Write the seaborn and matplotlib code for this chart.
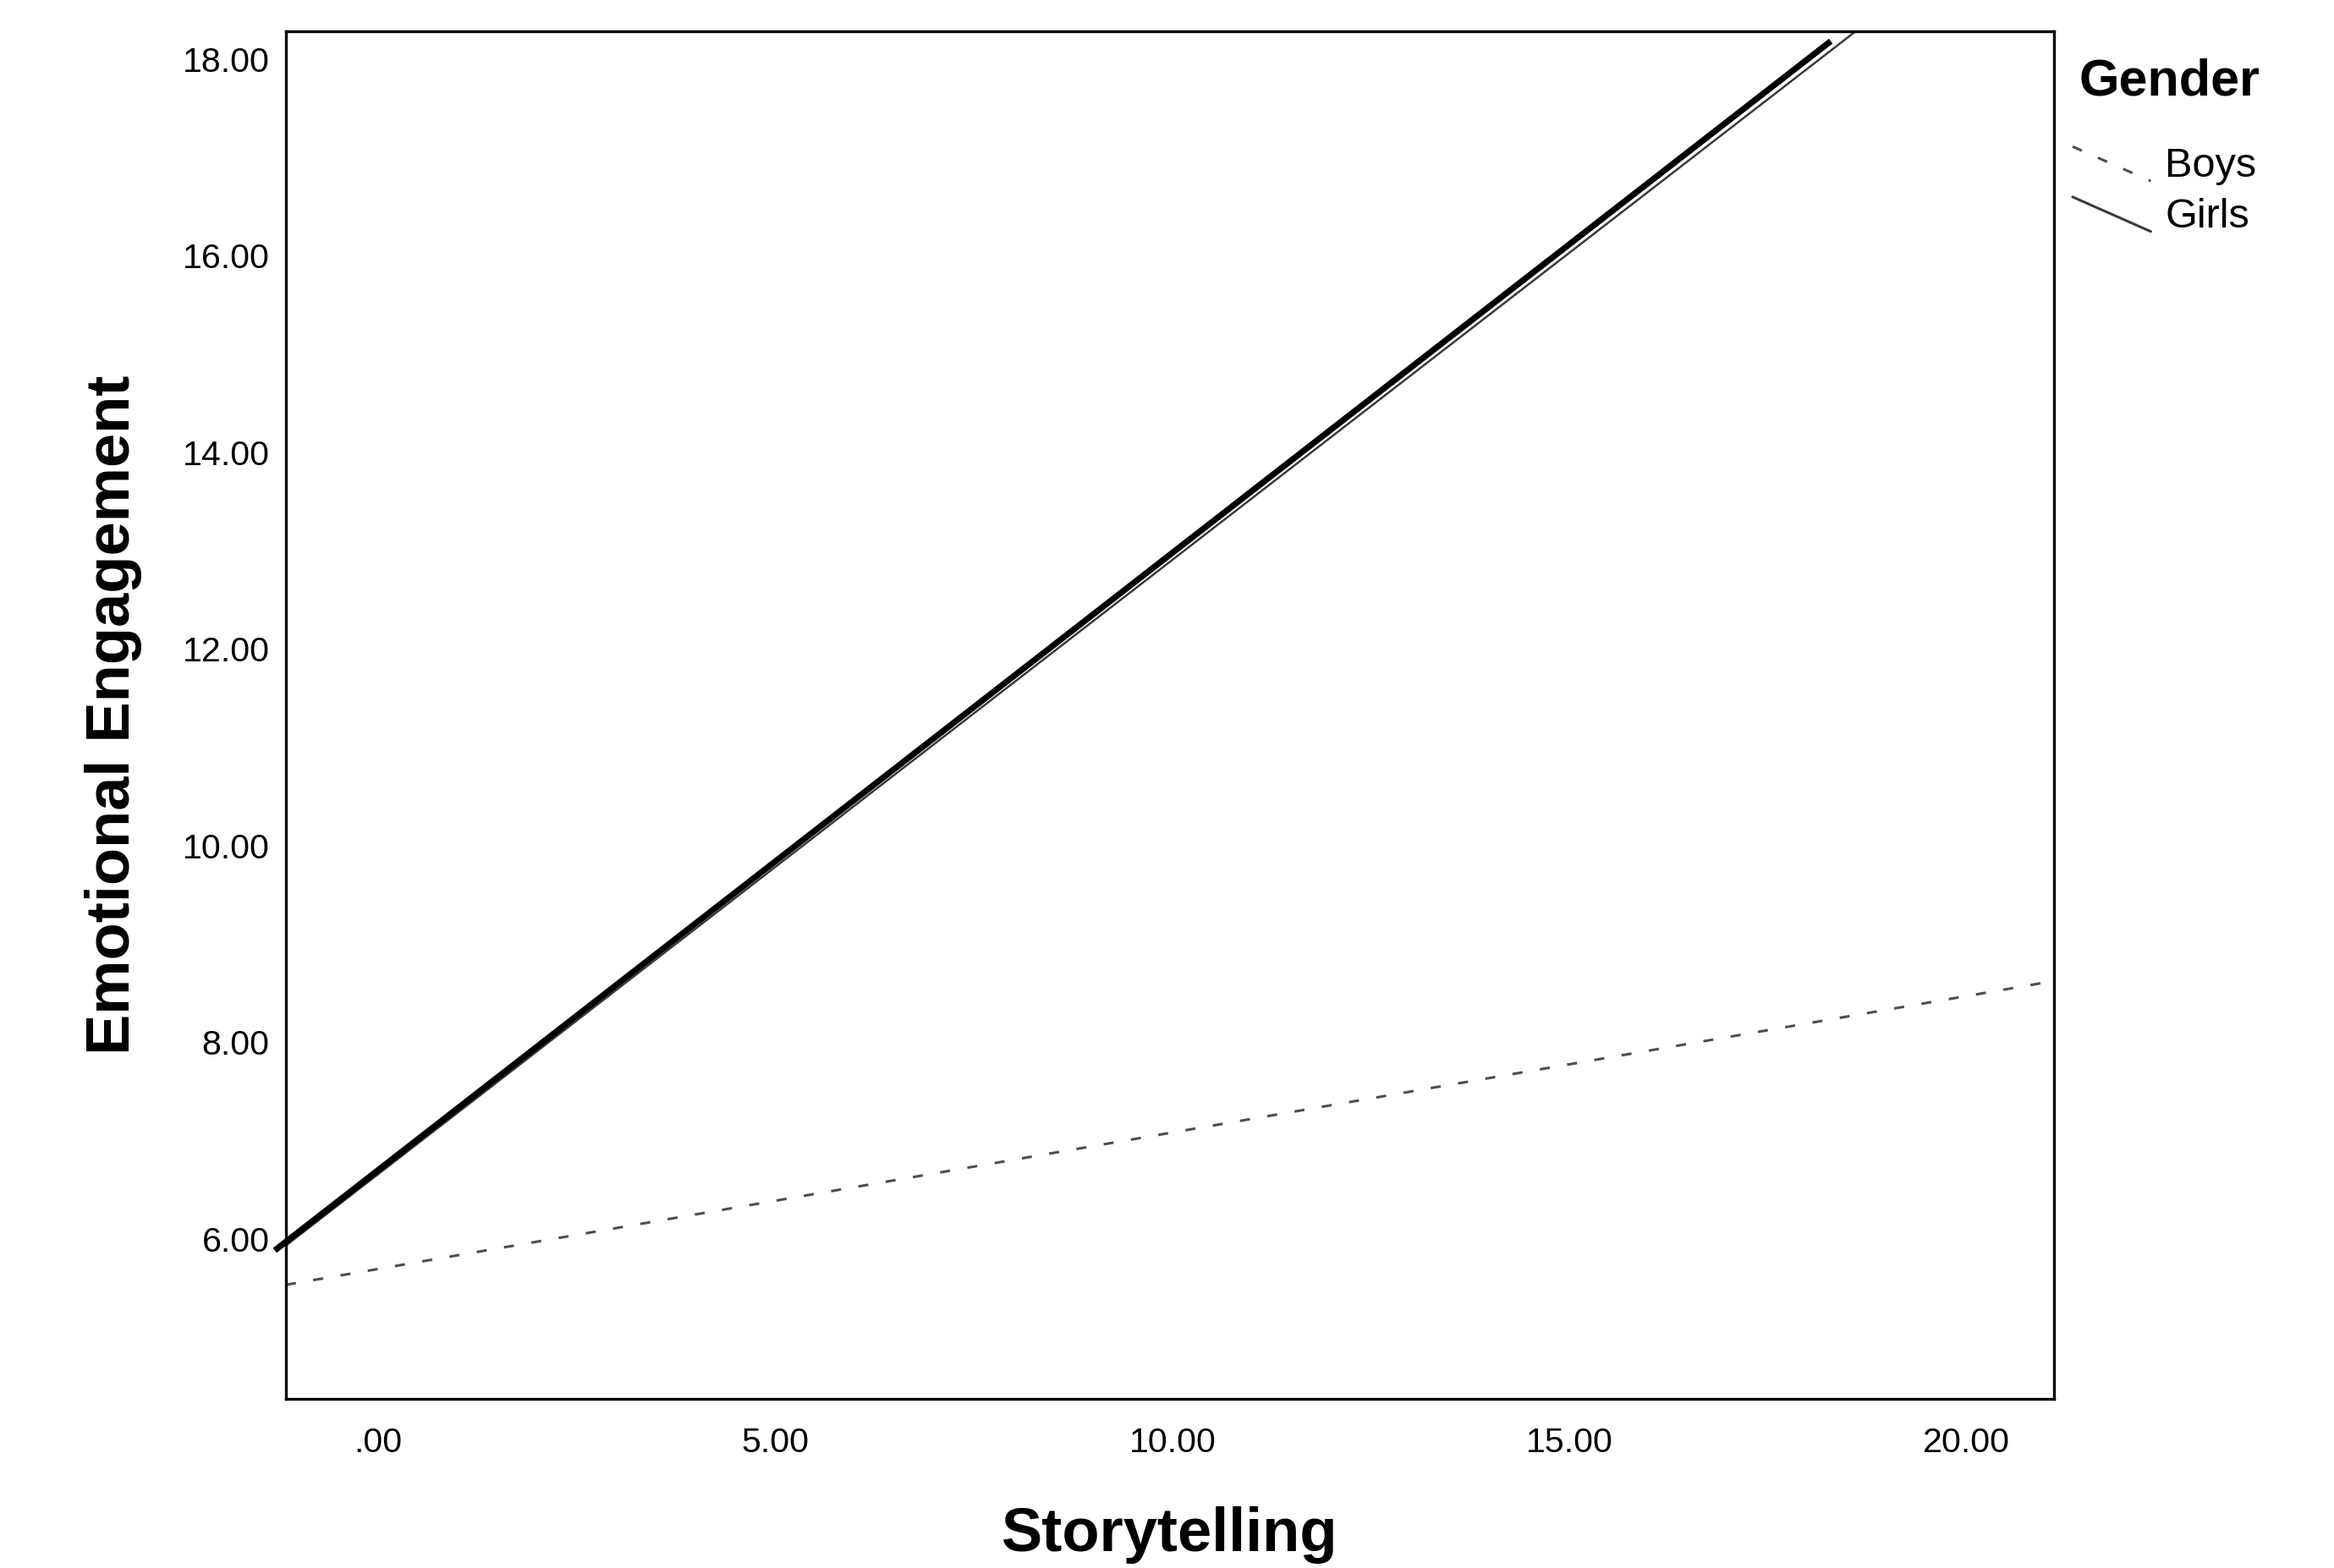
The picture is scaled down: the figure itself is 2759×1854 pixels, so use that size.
import matplotlib
matplotlib.use("Agg")
import matplotlib.pyplot as plt
from matplotlib.lines import Line2D
from matplotlib.legend_handler import HandlerBase
import seaborn as sns
import pandas as pd

# ---- data ----
x_ticks = [0, 5, 10, 15, 20]
x_tick_labels = [".00", "5.00", "10.00", "15.00", "20.00"]
y_ticks = [6, 8, 10, 12, 14, 16, 18]
y_tick_labels = ["6.00", "8.00", "10.00", "12.00", "14.00", "16.00", "18.00"]

boys_story = [-1.16, 21.1]
boys_engage = [5.53, 8.62]
girls_story = [-1.16, 21.1]
girls_engage = [5.93, 19.84]
overall_story = [-1.30, 18.29]
overall_engage = [5.88, 18.18]

sns.set_theme(style="white")
plt.rcParams["font.family"] = ["Liberation Sans", "DejaVu Sans"]
plt.rcParams["text.color"] = "black"
plt.rcParams["axes.labelcolor"] = "black"

W, H = 2759, 1854
fig = plt.figure(figsize=(W / 200, H / 200), dpi=200)
left, right, top, bottom = 338 / W, 2428 / W, 1 - 37 / H, 1 - 1654 / H
ax = fig.add_axes([left, bottom, right - left, top - bottom])

df_boys = pd.DataFrame({"Storytelling": boys_story, "Engagement": boys_engage})
df_girls = pd.DataFrame({"Storytelling": girls_story, "Engagement": girls_engage})
df_all = pd.DataFrame({"Storytelling": overall_story, "Engagement": overall_engage})

boys_style = dict(color="#4e4e4e", linewidth=1.1, linestyle=(0, (3.9, 6.8)))
girls_style = dict(color="#3a3a3a", linewidth=0.9)

sns.lineplot(data=df_boys, x="Storytelling", y="Engagement", ax=ax, **boys_style)
sns.lineplot(data=df_girls, x="Storytelling", y="Engagement", ax=ax, **girls_style)
sns.lineplot(data=df_all, x="Storytelling", y="Engagement", ax=ax,
             color="black", linewidth=2.6, clip_on=False, solid_capstyle="butt")

ax.set_xlim(-1.16, 21.1)
ax.set_ylim(4.37, 18.28)
ax.set_xticks(x_ticks)
ax.set_xticklabels(x_tick_labels)
ax.set_yticks(y_ticks)
ax.set_yticklabels(y_tick_labels)
ax.tick_params(axis="both", length=0, labelsize=14.8, colors="black")
ax.tick_params(axis="x", pad=12)
ax.tick_params(axis="y", pad=7)

for s in ax.spines.values():
    s.set_visible(True)
    s.set_color("black")
    s.set_linewidth(1.2)

ax.set_xlabel("Storytelling", fontsize=26, fontweight="bold", labelpad=20)
ax.set_ylabel("Emotional Engagement", fontsize=26, fontweight="bold", labelpad=17)
ax.grid(False)


class DiagHandler(HandlerBase):
    def create_artists(self, legend, orig_handle, xdescent, ydescent,
                       width, height, fontsize, trans):
        l = Line2D([-xdescent, -xdescent + width],
                   [-ydescent + height * 1.05, -ydescent - height * 0.15])
        l.update_from(orig_handle)
        l.set_transform(trans)
        return [l]


fig.text(2457 / W, 1 - 97 / H, "Gender", fontsize=22, fontweight="bold",
         ha="left", va="center", color="black")

h_boys = Line2D([], [], **boys_style)
h_girls = Line2D([], [], color="#3a3a3a", linewidth=1.1)
leg = fig.legend([h_boys, h_girls], ["Boys", "Girls"],
                 loc="upper left", bbox_to_anchor=(2450 / W, 1 - 174 / H),
                 frameon=False, fontsize=17.5,
                 handlelength=1.9, handletextpad=0.35,
                 labelspacing=0.3, borderpad=0, borderaxespad=0,
                 handler_map={Line2D: DiagHandler()})
for t in leg.get_texts():
    t.set_color("black")

fig.savefig("out.png", dpi=200)
